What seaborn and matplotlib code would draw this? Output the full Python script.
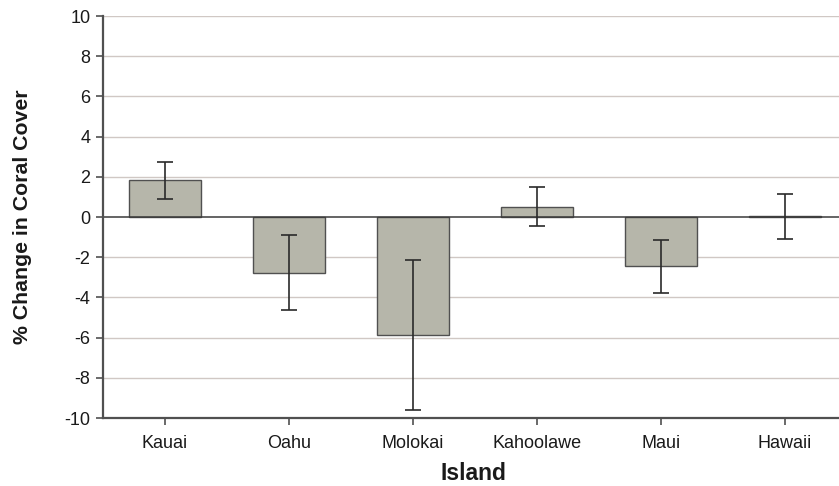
import matplotlib
matplotlib.use("Agg")
import matplotlib.pyplot as plt
import seaborn as sns
import pandas as pd

islands = ["Kauai", "Oahu", "Molokai", "Kahoolawe", "Maui", "Hawaii"]
change = [1.84, -2.77, -5.85, 0.52, -2.45, 0.03]
error = [0.92, 1.85, 3.73, 0.98, 1.32, 1.12]
y_ticks = [-10, -8, -6, -4, -2, 0, 2, 4, 6, 8, 10]

df = pd.DataFrame({"Island": islands, "Change": change})

sns.set_theme(style="white")
plt.rcParams["font.family"] = ["Liberation Sans", "DejaVu Sans"]

fig = plt.figure(figsize=(8.39, 4.86), dpi=100)
ax = fig.add_axes([103 / 839, 1 - 418 / 486, 736 / 839, 402 / 486])

for y in y_ticks:
    if y not in (-10, 0):
        ax.axhline(y, color="#d0c8c4", lw=1.0, zorder=0)

sns.barplot(data=df, x="Island", y="Change", order=islands, color="#b6b6aa",
            saturation=1, width=0.58, edgecolor="#505050", linewidth=1.0,
            errorbar=None, ax=ax, zorder=2)

ax.errorbar(range(len(islands)), change, yerr=error, fmt="none",
            ecolor="#2a2a2a", elinewidth=1.2, capsize=6, capthick=1.2, zorder=3)

ax.axhline(0, color="#3a3a3a", lw=1.1, zorder=2.5)

ax.set_xlim(-0.5, -0.5 + 736 / 124)
ax.set_ylim(-10, 10)
ax.set_yticks(y_ticks)
ax.set_yticklabels([str(v) for v in y_ticks])

for side in ("top", "right"):
    ax.spines[side].set_visible(False)
for side in ("left", "bottom"):
    ax.spines[side].set_color("#505050")
    ax.spines[side].set_linewidth(1.6)

ax.tick_params(axis="both", which="both", direction="out", length=5, width=1.2,
               color="#505050", labelsize=13, labelcolor="#1a1a1a")
ax.tick_params(axis="x", pad=7, bottom=True)
ax.tick_params(axis="y", pad=4, left=True)

ax.set_xlabel("Island", fontsize=16.5, fontweight="bold", color="#1a1a1a")
ax.set_ylabel("% Change in Coral Cover", fontsize=15.3, fontweight="bold",
              color="#1a1a1a")
ax.xaxis.set_label_coords(0.503, -0.11)
ax.yaxis.set_label_coords(-0.0965, 0.5)

fig.savefig("out.png", dpi=100)
